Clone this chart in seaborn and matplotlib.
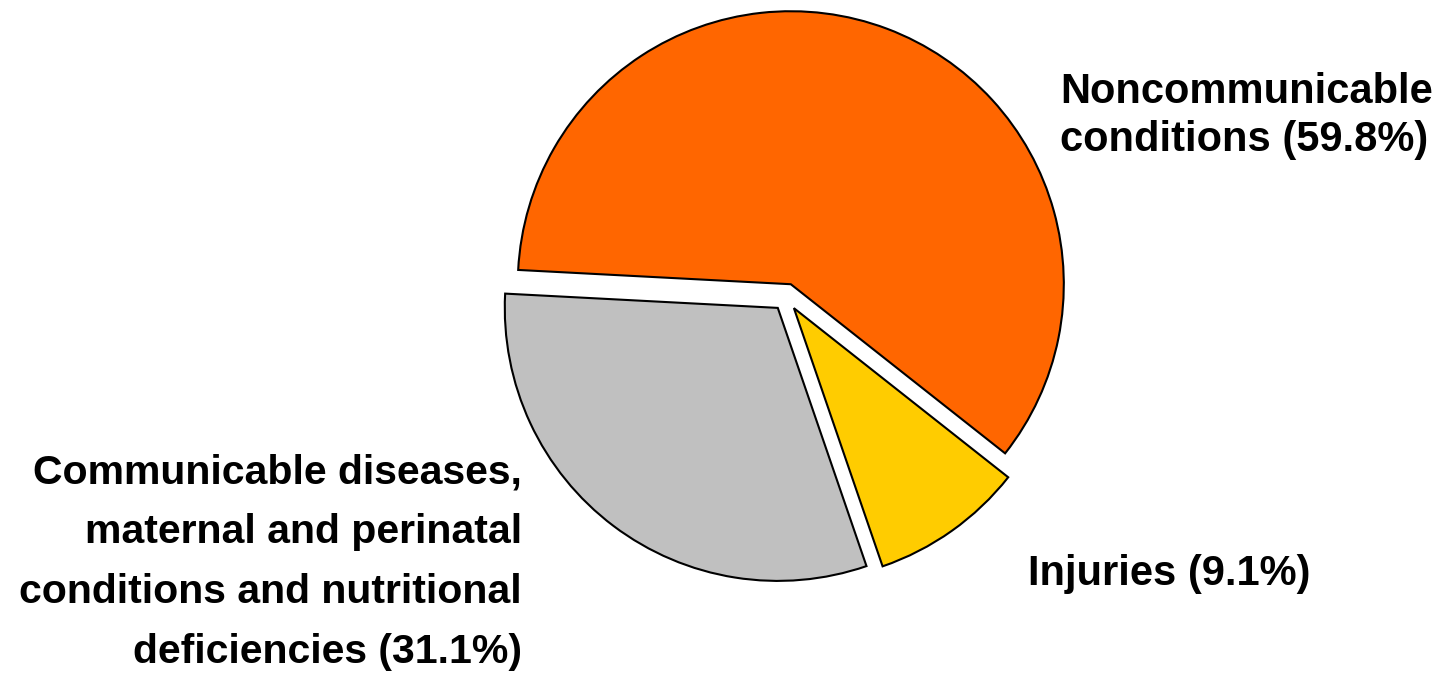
import matplotlib
matplotlib.use("Agg")
import matplotlib.pyplot as plt
import seaborn as sns

# share of deaths by broad cause group
groups = ["Noncommunicable\nconditions (59.8%)",
          "Injuries (9.1%)",
          "Communicable diseases,\nmaternal and perinatal\nconditions and nutritional\ndeficiencies (31.1%)"]
shares = [59.8, 9.1, 31.1]
slice_colors = ["#FF6600", "#FFCC00", "#C0C0C0"]

W, H = 1445, 674

sns.set_theme(style="white")
plt.rcParams['font.family'] = ['Liberation Sans', 'DejaVu Sans']

fig = plt.figure(figsize=(W / 100, H / 100), dpi=100)

# pie axes: centre at (786, 297) px from top-left, radius 273 px
cx, cy, r, pad = 786, 297, 273, 1.1
side = 2 * pad * r
ax = fig.add_axes([(cx - side / 2) / W, (H - cy - side / 2) / H, side / W, side / H])
ax.pie(shares, colors=slice_colors, startangle=177, counterclock=False,
       explode=[0.05] * len(shares),
       wedgeprops=dict(edgecolor='black', linewidth=1.5))
ax.set_xlim(-pad, pad)
ax.set_ylim(-pad, pad)
ax.set_aspect('equal')
ax.axis('off')


def put_label(text, x, y0, step, size, ha, family):
    # one text per line so the baseline step can be set exactly
    for i, line in enumerate(text.split("\n")):
        fig.text(x / W, 1 - (y0 + i * step) / H, line, ha=ha, va='baseline',
                 fontsize=size, fontweight='bold', family=family, color='black')


put_label(groups[0], 1060, 103, 48, 30, 'left', ['Liberation Sans', 'DejaVu Sans'])
put_label(groups[1], 1028, 585, 48, 30, 'left', ['Liberation Sans', 'DejaVu Sans'])
put_label(groups[2], 522, 483, 60, 29.5, 'right', ['Liberation Sans', 'DejaVu Sans'])

fig.savefig("out.png", dpi=100)
